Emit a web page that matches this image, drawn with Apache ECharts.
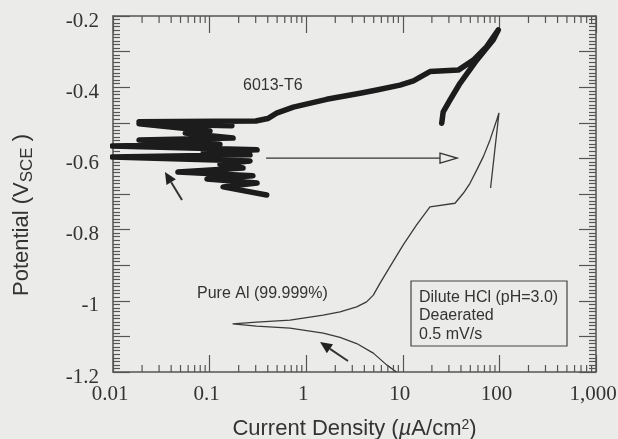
<!DOCTYPE html>
<html>
<head>
<meta charset="utf-8">
<script src="https://cdn.jsdelivr.net/npm/echarts@6/dist/echarts.min.js"></script>
<style>
html, body { margin: 0; padding: 0; background: #ebebe9; }
#main { width: 618px; height: 439px; }
</style>
</head>
<body>
<div id="main"></div>
<script>
// current density (uA/cm2), potential (V vs SCE)
var alloyCurrent = [0.39, 0.138, 0.31, 0.094, 0.281, 0.047, 0.222, 0.128, 0.262, 0.0098,
    0.262, 0.086, 0.31, 0.0098, 0.128, 0.0186, 0.175, 0.056, 0.101, 0.0186,
    0.17, 0.0186, 0.3, 0.4, 0.494, 0.736, 1.63, 3.61, 5.37, 9.35, 12.9, 17.7, 19.1, 37.5, 53.7, 73.8, 97.5,
    86.5, 58.2, 39.1, 30.8, 26.2, 25.3];
var alloyPotential = [-0.703, -0.680, -0.669, -0.658, -0.649, -0.638, -0.627, -0.616, -0.607, -0.596,
    -0.590, -0.582, -0.576, -0.565, -0.560, -0.548, -0.543, -0.529, -0.523, -0.503,
    -0.508, -0.497, -0.495, -0.488, -0.473, -0.456, -0.434, -0.417, -0.408, -0.394, -0.382, -0.361, -0.356, -0.352, -0.324, -0.286, -0.239,
    -0.267, -0.324, -0.389, -0.436, -0.469, -0.501];

var pureCurrent = [8.6, 6.8, 4.95, 3.33, 2.24, 1.5, 0.68, 0.307, 0.173,
    0.307, 0.68, 1.5, 2.24, 3.33, 4.22, 4.95, 5.8, 7.37, 10.1, 13.9, 19.1, 34.7,
    42.3, 49.6, 58.2, 68.2, 80, 93.8, 99, 81];
var purePotential = [-1.2, -1.180, -1.147, -1.120, -1.103, -1.091, -1.077, -1.071, -1.065,
    -1.060, -1.054, -1.040, -1.031, -1.017, -1.003, -0.984, -0.951, -0.904, -0.843, -0.787, -0.736, -0.726,
    -0.698, -0.670, -0.633, -0.595, -0.548, -0.492, -0.472, -0.683];

var xTicks = [0.01, 0.1, 1, 10, 100, 1000];
var yLabels = ['-0.2', '-0.4', '-0.6', '-0.8', '-1', '-1.2'];

function pairs(xs, ys) {
    var res = [];
    for (var i = 0; i < xs.length; i++) {
        res.push([xs[i], ys[i]]);
    }
    return res;
}

// minor ticks of the log axes: 2..9 in each decade
var minorTicks = [];
for (var d = 0; d < xTicks.length - 1; d++) {
    for (var m = 2; m <= 9; m++) {
        minorTicks.push([+(xTicks[d] * m).toPrecision(3), -1.2]);
    }
}

var axisColor = '#555';
var textColor = '#333';
var bg = '#ebebe9';

var chart = echarts.init(document.getElementById('main'));

function logAxis(pos, labels) {
    return {
        type: 'log',
        logBase: 10,
        min: 0.01,
        max: 1000,
        position: pos,
        axisLine: { show: true, onZero: false, lineStyle: { color: axisColor, width: 1.5 } },
        axisTick: { inside: true, length: 17, lineStyle: { color: axisColor, width: 1.2 } },
        splitLine: { show: false },
        axisLabel: {
            show: labels,
            fontFamily: 'Liberation Serif',
            fontSize: 21,
            color: textColor,
            margin: 12,
            padding: [0, 6, 0, 0],
            formatter: function (v) {
                if (v >= 1000) return '1,000';
                return String(+v.toPrecision(2));
            }
        }
    };
}

function linAxis(pos, labels) {
    return {
        type: 'value',
        min: -1.2,
        max: -0.2,
        interval: 0.1,
        position: pos,
        axisLine: { show: true, onZero: false, lineStyle: { color: axisColor, width: 1.5 } },
        axisTick: { inside: true, length: 17, lineStyle: { color: axisColor, width: 1.2 } },
        minorTick: { show: true, splitNumber: 10, length: 7, lineStyle: { color: axisColor, width: 1.2 } },
        splitLine: { show: false },
        axisLabel: {
            show: labels,
            fontFamily: 'Liberation Serif',
            fontSize: 21,
            color: textColor,
            margin: 14,
            verticalAlign: 'top',
            lineHeight: 10,
            formatter: function (v) {
                var k = Math.round(v * 10);
                if (k % 2 !== 0) return '';
                return yLabels[(-k - 2) / 2];
            }
        }
    };
}

var xBottom = logAxis('bottom', true);
xBottom.name = 'Current Density ({mu|\u00b5}A/cm{sup|2})';
xBottom.nameLocation = 'middle';
xBottom.nameGap = 46;
xBottom.nameTextStyle = {
    fontFamily: 'Liberation Sans', fontSize: 22, color: textColor,
    rich: {
        mu: { fontFamily: 'Liberation Sans', fontStyle: 'italic', fontSize: 22, color: textColor },
        sup: { fontFamily: 'Liberation Sans', fontSize: 14, color: textColor, verticalAlign: 'top', lineHeight: 14 }
    }
};
var xTop = logAxis('top', false);

var yLeft = linAxis('left', true);
var yRight = linAxis('right', false);

chart.setOption({
    backgroundColor: bg,
    animation: false,
    grid: { left: 113, right: 22, top: 16, bottom: 67, containLabel: false, outerBoundsMode: 'none' },
    xAxis: [xBottom, xTop],
    yAxis: [yLeft, yRight],
    series: [
        {
            name: 'Pure Al (99.999%)',
            type: 'line',
            xAxisIndex: 0,
            yAxisIndex: 0,
            data: pairs(pureCurrent, purePotential),
            symbol: 'none',
            lineStyle: { color: '#3a3a3a', width: 1.3 }
        },
        {
            name: '6013-T6',
            type: 'line',
            xAxisIndex: 0,
            yAxisIndex: 0,
            data: pairs(alloyCurrent, alloyPotential),
            symbol: 'none',
            lineStyle: { color: '#1c1c1c', width: 5.5, join: 'round', cap: 'round' }
        },
        {
            type: 'custom',
            xAxisIndex: 0,
            yAxisIndex: 0,
            silent: true,
            clip: false,
            z: 5,
            data: minorTicks,
            renderItem: function (params, api) {
                var b = api.coord([api.value(0), -1.2]);
                var t = api.coord([api.value(0), -0.2]);
                var style = { stroke: axisColor, lineWidth: 1.2 };
                return {
                    type: 'group',
                    children: [
                        { type: 'line', shape: { x1: b[0], y1: b[1], x2: b[0], y2: b[1] - 7 }, style: style },
                        { type: 'line', shape: { x1: t[0], y1: t[1], x2: t[0], y2: t[1] + 7 }, style: style }
                    ]
                };
            }
        }
    ]
});

// annotations (arrows in data space, texts)
function px(p) {
    return chart.convertToPixel({ gridIndex: 0 }, p);
}

function arrow(from, to, open) {
    var a = px(from), b = px(to);
    var dx = b[0] - a[0], dy = b[1] - a[1];
    var len = Math.sqrt(dx * dx + dy * dy);
    var ux = dx / len, uy = dy / len;
    var hl = open ? 17 : 12, hw = open ? 5 : 5.5;
    var bx = b[0] - ux * hl, by = b[1] - uy * hl;
    var head = [[b[0], b[1]], [bx - uy * hw, by + ux * hw], [bx + uy * hw, by - ux * hw]];
    return [
        { type: 'line', shape: { x1: a[0], y1: a[1], x2: bx, y2: by }, style: { stroke: '#333', lineWidth: open ? 1.3 : 2 } },
        { type: 'polygon', shape: { points: head }, style: open ? { fill: bg, stroke: '#333', lineWidth: 1.3 } : { fill: '#222' } }
    ];
}

var textStyle = { fontFamily: 'Liberation Sans', fontSize: 16, fill: textColor, verticalAlign: 'middle' };
var elements = []
    .concat(arrow([0.0518, -0.717], [0.0345, -0.638], false))
    .concat(arrow([2.71, -1.169], [1.39, -1.116], false))
    .concat(arrow([0.384, -0.599], [36.4, -0.599], true));

elements.push(
    { type: 'text', left: 243, top: 78, style: Object.assign({ text: '6013-T6' }, textStyle) },
    { type: 'text', left: 197, top: 286, style: Object.assign({ text: 'Pure Al (99.999%)' }, textStyle) },
    { type: 'rect', shape: { x: 411, y: 281, width: 156, height: 65 }, style: { fill: 'none', stroke: '#444', lineWidth: 1.2 } },
    { type: 'text', left: 419, top: 288, style: Object.assign({ text: 'Dilute HCl (pH=3.0)\nDeaerated\n0.5 mV/s', lineHeight: 18.5 }, textStyle) },
    {
        type: 'text', x: 22, y: 215, rotation: Math.PI / 2,
        style: {
            text: 'Potential (V{sub|SCE})',
            fontFamily: 'Liberation Sans', fontSize: 22, fill: textColor,
            align: 'center', verticalAlign: 'middle', lineHeight: 28,
            rich: {
                sub: { fontFamily: 'Liberation Sans', fontSize: 17, fill: textColor, verticalAlign: 'bottom', lineHeight: 16, padding: [0, 6, 0, 0] }
            }
        }
    }
);

chart.setOption({ graphic: elements });
</script>
</body>
</html>
